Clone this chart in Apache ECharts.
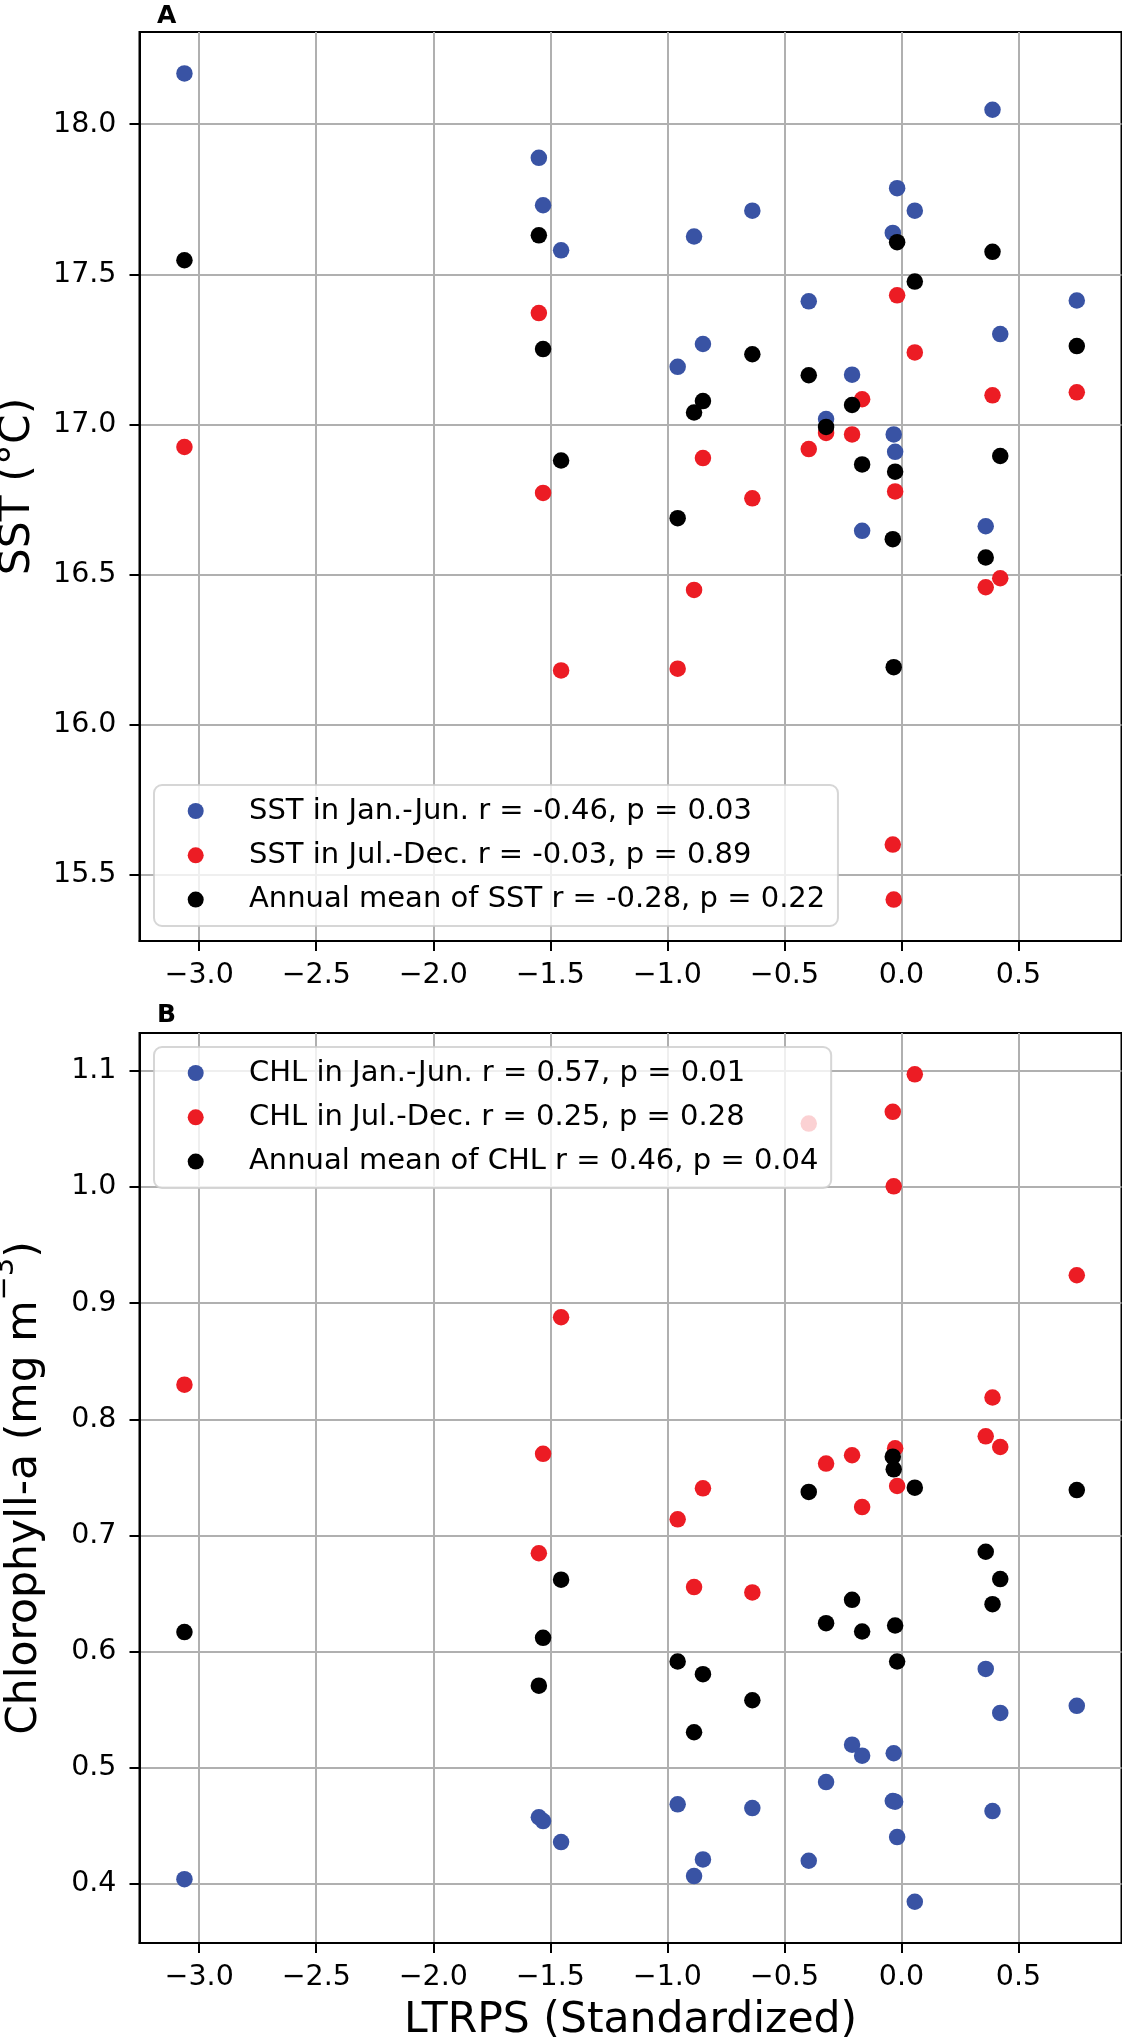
<!DOCTYPE html>
<html>
<head>
<meta charset="utf-8">
<script src="https://cdn.jsdelivr.net/npm/echarts@6/dist/echarts.min.js"></script>
<style>
  html, body { margin: 0; padding: 0; background: #fff; }
  #chart { width: 1122px; height: 2043px; }
</style>
</head>
<body>
<div id="chart"></div>
<script>
// LTRPS (standardized), one value per year, shared by both panels
var ltrps = [-3.063, -1.549, -1.531, -1.454, -0.956, -0.886, -0.848, -0.637, -0.396, -0.322, -0.211,
  -0.168, -0.037, -0.033, -0.027, -0.0185, 0.057, 0.360, 0.389, 0.422, 0.749];

// panel A: SST (°C)
var sstJanJun = [18.169, 17.888, 17.730, 17.580, 17.192, 17.626, 17.268, 17.712, 17.410, 17.018, 17.166,
  16.646, 17.638, 16.967, 16.909, 17.787, 17.712, 16.661, 18.048, 17.301, 17.413];
var sstJulDec = [16.925, 17.371, 16.772, 16.181, 16.187, 16.449, 16.888, 16.754, 16.918, 16.972, 16.967,
  17.084, 15.601, 15.418, 16.777, 17.430, 17.240, 16.458, 17.097, 16.488, 17.107];
var sstAnnual = [17.547, 17.630, 17.251, 16.880, 16.688, 17.040, 17.078, 17.234, 17.164, 16.992, 17.065,
  16.867, 16.618, 16.192, 16.843, 17.607, 17.476, 16.557, 17.575, 16.895, 17.261];

// panel B: chlorophyll-a (mg m-3)
var chlJanJun = [0.404, 0.4573, 0.454, 0.4359, 0.4684, 0.4066, 0.421, 0.4652, 0.4198, 0.4876, 0.5198,
  0.5103, 0.4713, 0.5124, 0.4707, 0.4402, 0.3845, 0.585, 0.4626, 0.5471, 0.5532];
var chlJulDec = [0.8298, 0.6846, 0.7702, 0.8878, 0.7138, 0.6555, 0.7405, 0.6509, 1.0546, 0.7618, 0.769,
  0.7244, 1.0647, 1.0006, 0.775, 0.7425, 1.097, 0.7853, 0.8187, 0.7761, 0.924];
var chlAnnual = [0.6167, 0.5706, 0.6118, 0.6619, 0.5914, 0.5305, 0.5805, 0.558, 0.7374, 0.6244, 0.6445,
  0.6172, 0.7678, 0.7569, 0.6224, 0.5914, 0.7411, 0.6859, 0.6408, 0.6624, 0.739];

// tick labels
var xTicks = [-3.0, -2.5, -2.0, -1.5, -1.0, -0.5, 0.0, 0.5];
var sstTicks = [15.5, 16.0, 16.5, 17.0, 17.5, 18.0];
var chlTicks = [0.4, 0.5, 0.6, 0.7, 0.8, 0.9, 1.0, 1.1];

var sstNames = ['SST in Jan.-Jun. r = -0.46, p = 0.03', 'SST in Jul.-Dec. r = -0.03, p = 0.89',
  'Annual mean of SST r = -0.28, p = 0.22'];
var chlNames = ['CHL in Jan.-Jun. r = 0.57, p = 0.01', 'CHL in Jul.-Dec. r = 0.25, p = 0.28',
  'Annual mean of CHL r = 0.46, p = 0.04'];

var colors = ['#3953a4', '#ec1c24', '#000000'];
var FONT = 'DejaVu Sans';

function pairs(ys) {
  return ltrps.map(function (x, i) { return [x, ys[i]]; });
}
function tickText(v) {
  return (v < 0 ? '\u2212' : '') + Math.abs(v).toFixed(1);
}

function makeX(gridIndex, withName) {
  var ax = {
    type: 'value', gridIndex: gridIndex, min: -3.255, max: 0.94,
    axisLine: { show: true, onZero: false, lineStyle: { color: '#000', width: 2 } },
    axisTick: { show: true, customValues: xTicks, length: 10, lineStyle: { color: '#000', width: 2 } },
    axisLabel: { customValues: xTicks, formatter: tickText, margin: 20, fontSize: 28.5, fontFamily: FONT, color: '#000' },
    splitLine: { show: true, lineStyle: { color: '#b0b0b0', width: 2 } }
  };
  if (withName) {
    ax.name = 'LTRPS (Standardized)';
    ax.nameLocation = 'middle';
    ax.nameGap = 57;
    ax.nameTextStyle = { fontSize: 42.5, fontFamily: FONT, color: '#000', lineHeight: 42 };
  }
  return ax;
}
function makeY(gridIndex, min, max, ticks, name, gap, nameStyle) {
  return {
    type: 'value', gridIndex: gridIndex, min: min, max: max,
    name: name, nameLocation: 'middle', nameGap: gap, nameTextStyle: nameStyle,
    axisLine: { show: true, onZero: false, lineStyle: { color: '#000', width: 2 } },
    axisTick: { show: true, customValues: ticks, length: 10, lineStyle: { color: '#000', width: 2 } },
    axisLabel: { customValues: ticks, formatter: tickText, margin: 23, fontSize: 28.5, fontFamily: FONT, color: '#000' },
    splitLine: { show: true, lineStyle: { color: '#b0b0b0', width: 2 } }
  };
}
function makeLegend(names, top) {
  return {
    data: names, orient: 'vertical', left: 154, top: top,
    icon: 'circle', itemWidth: 16, itemHeight: 16, itemGap: 10.3,
    padding: [9, 12.7, 9.4, 33.7],
    backgroundColor: 'rgba(255,255,255,0.8)', borderColor: 'rgba(204,204,204,0.8)', borderWidth: 2, borderRadius: 8,
    selectedMode: false,
    textStyle: { fontSize: 29, fontFamily: FONT, color: '#000', lineHeight: 34, padding: [0, 0, 0, 40.3] }
  };
}
function makeScatter(name, xi, ys, color) {
  return {
    name: name, type: 'scatter', xAxisIndex: xi, yAxisIndex: xi,
    data: pairs(ys), symbolSize: 16.5,
    itemStyle: { color: color, opacity: 1 },
    emphasis: { disabled: true }
  };
}

var myChart = echarts.init(document.getElementById('chart'), null, { renderer: 'canvas' });
var option = {
  animation: false,
  backgroundColor: '#fff',
  title: [
    { text: 'A', left: 157, top: 3.5, padding: 0, textStyle: { fontSize: 25, fontWeight: 'bold', fontFamily: FONT, color: '#000', lineHeight: 25 } },
    { text: 'B', left: 157, top: 1002.5, padding: 0, textStyle: { fontSize: 25, fontWeight: 'bold', fontFamily: FONT, color: '#000', lineHeight: 25 } }
  ],
  grid: [
    { left: 139.5, top: 32, width: 982, height: 909, show: true, borderColor: '#000', borderWidth: 2, backgroundColor: 'transparent', containLabel: false, outerBoundsMode: 'none' },
    { left: 139.5, top: 1033, width: 982, height: 910, show: true, borderColor: '#000', borderWidth: 2, backgroundColor: 'transparent', containLabel: false, outerBoundsMode: 'none' }
  ],
  legend: [makeLegend(sstNames, 785), makeLegend(chlNames, 1047)],
  xAxis: [makeX(0, false), makeX(1, true)],
  yAxis: [
    makeY(0, 15.28, 18.307, sstTicks, 'SST (\u00b0C)', 101,
      { fontSize: 42.5, fontFamily: FONT, color: '#000', lineHeight: 42 }),
    makeY(1, 0.349, 1.1326, chlTicks, 'Chlorophyll-a (mg m{sup|\u22123})', 70,
      { fontSize: 42.5, fontFamily: FONT, color: '#000', lineHeight: 70,
        rich: { sup: { fontSize: 29, fontFamily: FONT, color: '#000', lineHeight: 29, padding: [0, 0, 40, 0] } } })
  ],
  series: [
    makeScatter(sstNames[0], 0, sstJanJun, colors[0]),
    makeScatter(sstNames[1], 0, sstJulDec, colors[1]),
    makeScatter(sstNames[2], 0, sstAnnual, colors[2]),
    makeScatter(chlNames[0], 1, chlJanJun, colors[0]),
    makeScatter(chlNames[1], 1, chlJulDec, colors[1]),
    makeScatter(chlNames[2], 1, chlAnnual, colors[2])
  ]
};
myChart.setOption(option);
window.addEventListener('resize', function () {
  myChart.resize();
});
</script>
</body>
</html>
